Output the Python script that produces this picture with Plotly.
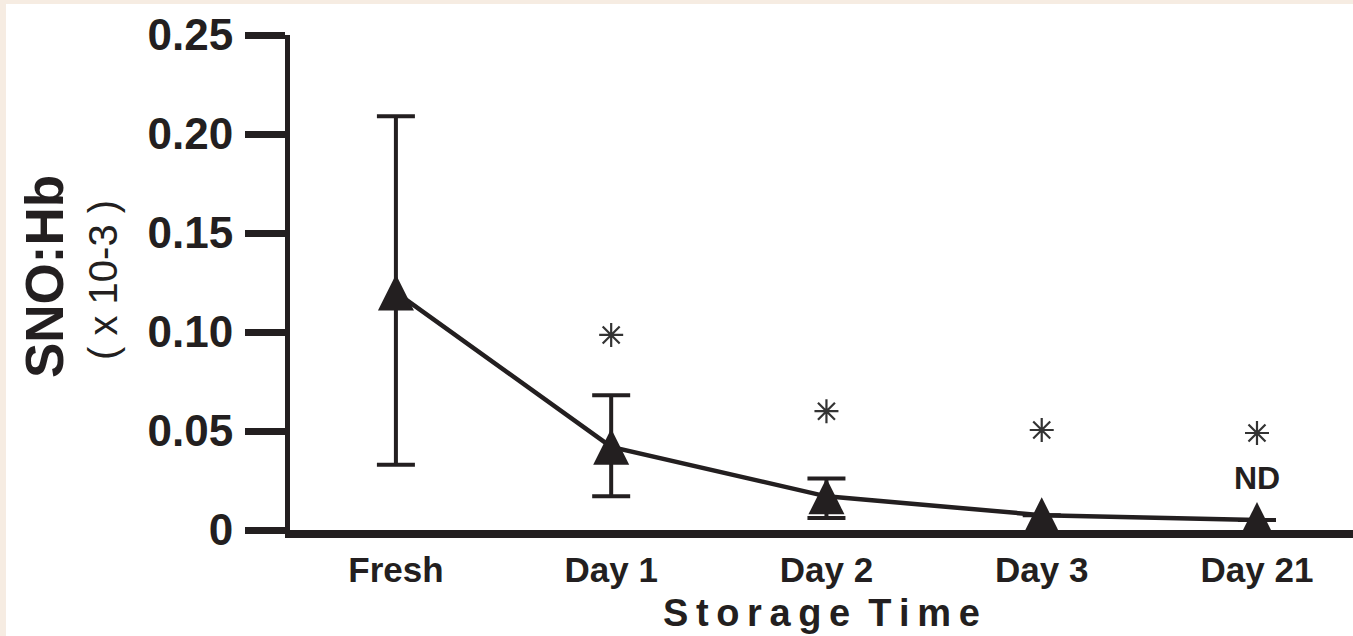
import plotly.graph_objects as go

# ---- data ----
categories = ["Fresh", "Day 1", "Day 2", "Day 3", "Day 21"]
sno_hb = [0.120, 0.042, 0.017, 0.0075, 0.005]
err_plus = [0.089, 0.026, 0.009, None, None]
err_minus = [0.087, 0.025, 0.011, None, None]
sig_marks = [None, 0.0985, 0.060, 0.0505, 0.049]
nd_label_y = 0.0263
y_ticks = [0, 0.05, 0.10, 0.15, 0.20, 0.25]
y_tick_text = ["0", "0.05", "0.10", "0.15", "0.20", "0.25"]

INK = "#231f20"
FONT = "Liberation Sans, Arial, sans-serif"

fig = go.Figure()

fig.add_trace(go.Scatter(
    x=categories, y=sno_hb,
    mode="lines+markers",
    line=dict(color=INK, width=4.5),
    marker=dict(symbol="arrow-down", angle=180, standoff=18, size=36, color=INK,
                line=dict(width=0)),
    error_y=dict(type="data", symmetric=False,
                 array=[v if v is not None else 0 for v in err_plus],
                 arrayminus=[v if v is not None else 0 for v in err_minus],
                 color=INK, thickness=4, width=19),
    cliponaxis=False, showlegend=False, hoverinfo="skip",
))

fig.add_trace(go.Scatter(
    x=categories, y=sig_marks,
    mode="markers",
    marker=dict(symbol="asterisk-open", size=20, color="#333333",
                line=dict(color="#333333", width=2.2)),
    cliponaxis=False, showlegend=False, hoverinfo="skip",
))

fig.add_annotation(x=categories[-1], y=nd_label_y, text="<b>ND</b>", showarrow=False,
                   xanchor="center", yanchor="middle",
                   font=dict(family=FONT, size=32, color=INK))

# y-axis titles
fig.add_annotation(xref="paper", yref="paper", x=-0.2314, y=0.511, text="<b>SNO:Hb</b>",
                   textangle=-90, showarrow=False, xanchor="center", yanchor="middle",
                   font=dict(family=FONT, size=53, color=INK))
fig.add_annotation(xref="paper", yref="paper", x=-0.176, y=0.505, text="( x 10-3 )",
                   textangle=-90, showarrow=False, xanchor="center", yanchor="middle",
                   font=dict(family=FONT, size=40, color=INK))

# x-axis title
fig.add_annotation(xref="paper", yref="paper", x=0.5, y=-0.1677,
                   text="<b>S\u2009t\u2009o\u2009r\u2009a\u2009g\u2009e\u2009 T\u2009i\u2009m\u2009e</b>",
                   showarrow=False, xanchor="center", yanchor="middle",
                   font=dict(family=FONT, size=38, color=INK))

# page background frame
fig.add_shape(type="rect", xref="paper", yref="paper", x0=-0.2672, x1=1.0,
              y0=-0.2141, y1=1.0626, fillcolor="white", line=dict(width=0), layer="below")

fig.update_layout(
    width=1353, height=636,
    margin=dict(l=290, r=0, t=35, b=106, pad=0),
    paper_bgcolor="#f6ece2",
    plot_bgcolor="rgba(0,0,0,0)",
    font=dict(family=FONT, color=INK),
    xaxis=dict(
        type="category", categoryorder="array", categoryarray=categories,
        range=[-0.492, 4.446],
        showline=True, linewidth=8, linecolor=INK,
        ticks="", showgrid=False, zeroline=False,
        tickvals=categories, ticktext=[f"<b>{c}</b>" for c in categories],
        tickfont=dict(family=FONT, size=35, color=INK),
        ticklabelstandoff=2,
        fixedrange=True,
    ),
    yaxis=dict(
        range=[0, 0.25],
        tickvals=y_ticks, ticktext=[f"<b>{t}</b>" for t in y_tick_text],
        showline=True, linewidth=5, linecolor=INK,
        ticks="outside", ticklen=40, tickwidth=7, tickcolor=INK,
        showgrid=False, zeroline=False,
        tickfont=dict(family=FONT, size=44, color=INK),
        ticklabelstandoff=3,
        fixedrange=True,
    ),
)

fig.write_html("out.html")
